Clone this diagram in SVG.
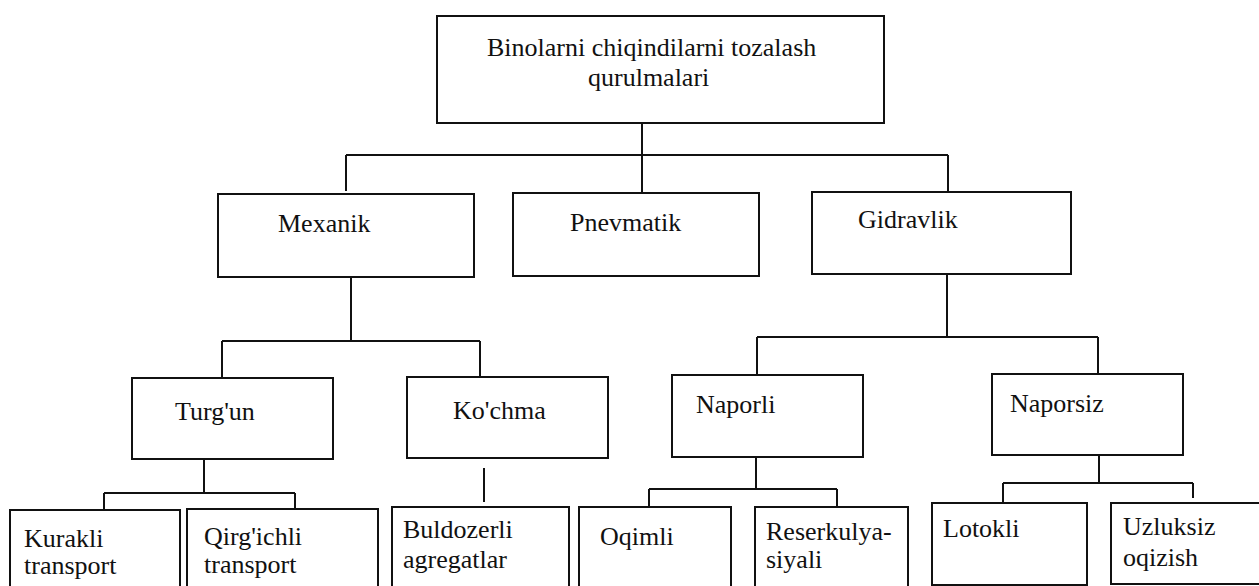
<svg xmlns="http://www.w3.org/2000/svg" width="1259" height="586" viewBox="0 0 1259 586">
  <style>
    .box { fill: #ffffff; stroke: #111111; stroke-width: 2; }
    .lbl { font-family: "Liberation Serif", "Times New Roman", serif; font-size: 26px; fill: #111111; }
    .wire { fill: none; stroke: #111111; stroke-width: 2; }
  </style>
  <rect width="1259" height="586" fill="#ffffff"/>

  <!-- connectors -->
  <g id="connectors" class="wire">
    <path d="M642 123 V155 M346 155 H948 M346 155 V191 M642 155 V192 M948 155 V191"/>
    <path d="M351 277 V341 M222 341 H480 M222 341 V377 M480 341 V377"/>
    <path d="M947 274 V337 M757 337 H1098 M757 337 V374 M1098 337 V373"/>
    <path d="M204 456 V493 M104 493 H295 M104 493 V509 M295 493 V508"/>
    <path d="M484 468 V502"/>
    <path d="M756 457 V489 M649 489 H837 M649 489 V507 M837 489 V507"/>
    <path d="M1099 455 V483 M1003 483 H1193 M1003 483 V503 M1193 483 V498"/>
  </g>

  <!-- root -->
  <g id="root">
    <rect class="box" x="437" y="16" width="447" height="107"/>
    <text class="lbl" x="487" y="56">Binolarni chiqindilarni tozalash</text>
    <text class="lbl" x="588" y="86">qurulmalari</text>
  </g>

  <!-- level 1 -->
  <g id="mexanik">
    <rect class="box" x="218" y="194" width="256" height="83"/>
    <text class="lbl" x="278" y="232">Mexanik</text>
  </g>
  <g id="pnevmatik">
    <rect class="box" x="513" y="193" width="246" height="83"/>
    <text class="lbl" x="570" y="231">Pnevmatik</text>
  </g>
  <g id="gidravlik">
    <rect class="box" x="812" y="192" width="259" height="82"/>
    <text class="lbl" x="858" y="228">Gidravlik</text>
  </g>

  <!-- level 2 -->
  <g id="turgun">
    <rect class="box" x="132" y="378" width="201" height="81"/>
    <text class="lbl" x="175" y="420">Turg'un</text>
  </g>
  <g id="kochma">
    <rect class="box" x="407" y="377" width="201" height="81"/>
    <text class="lbl" x="453" y="419">Ko'chma</text>
  </g>
  <g id="naporli">
    <rect class="box" x="672" y="375" width="191" height="82"/>
    <text class="lbl" x="696" y="413">Naporli</text>
  </g>
  <g id="naporsiz">
    <rect class="box" x="992" y="374" width="191" height="81"/>
    <text class="lbl" x="1010" y="412">Naporsiz</text>
  </g>

  <!-- level 3 -->
  <g id="kurakli">
    <rect class="box" x="10" y="510" width="170" height="90"/>
    <text class="lbl" x="24" y="547">Kurakli</text>
    <text class="lbl" x="24" y="574">transport</text>
  </g>
  <g id="qirgichli">
    <rect class="box" x="187" y="509" width="191" height="90"/>
    <text class="lbl" x="204" y="545">Qirg'ichli</text>
    <text class="lbl" x="204" y="573">transport</text>
  </g>
  <g id="buldozerli">
    <rect class="box" x="392" y="507" width="177" height="90"/>
    <text class="lbl" x="403" y="538">Buldozerli</text>
    <text class="lbl" x="403" y="568">agregatlar</text>
  </g>
  <g id="oqimli">
    <rect class="box" x="579" y="507" width="152" height="90"/>
    <text class="lbl" x="600" y="545">Oqimli</text>
  </g>
  <g id="reserkulyasiyali">
    <rect class="box" x="755" y="507" width="153" height="90"/>
    <text class="lbl" x="766" y="540">Reserkulya-</text>
    <text class="lbl" x="766" y="568">siyali</text>
  </g>
  <g id="lotokli">
    <rect class="box" x="932" y="503" width="155" height="82"/>
    <text class="lbl" x="943" y="537">Lotokli</text>
  </g>
  <g id="uzluksiz">
    <rect class="box" x="1111" y="503" width="160" height="81"/>
    <text class="lbl" x="1123" y="535">Uzluksiz</text>
    <text class="lbl" x="1123" y="566">oqizish</text>
  </g>
</svg>
